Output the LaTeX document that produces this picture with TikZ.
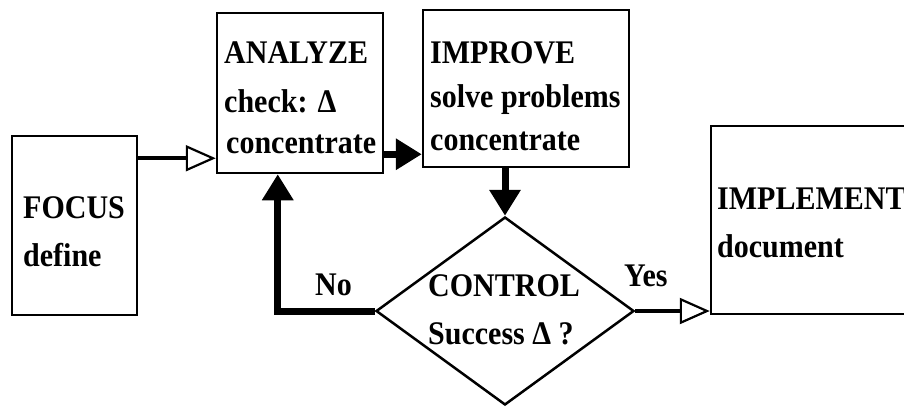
\documentclass[tikz,border=0pt]{standalone}
\usepackage{fontspec}
\setmainfont{Liberation Serif}
\usetikzlibrary{shapes.geometric,arrows.meta}
\newcommand\tallt[1]{\scalebox{1}[1.1]{#1}}
\begin{document}
\begin{tikzpicture}[x=1pt,y=-1pt,
  boxnode/.style={draw,line width=2.5pt,rectangle,inner sep=0pt},
  txt/.style={anchor=base west,inner sep=0pt,font=\bfseries\fontsize{30}{36}\selectfont},
  thinconn/.style={line width=4pt,-{Triangle[open,length=30pt,width=26pt,line width=2.2pt]}},
  thickconn/.style={line width=7pt,-{Triangle[length=26pt,width=30pt]}}]
\useasboundingbox (0,0) rectangle (904,408);
% boxes
\node[boxnode,minimum width=125pt,minimum height=179pt] (fo) at (74.5,225.5) {};
\node[boxnode,minimum width=166pt,minimum height=160pt] (an) at (300,93) {};
\node[boxnode,minimum width=206pt,minimum height=157pt] (im) at (526,88.5) {};
\node[boxnode,minimum width=249pt,minimum height=188pt] (impl) at (835.5,220) {};
\node[draw,line width=2.5pt,diamond,inner sep=0pt,minimum width=258pt,minimum height=188pt] (ctrl) at (505,311) {};
% texts
\node[txt] (t1) at (224,63) {\tallt{ANALYZE}};
\node[txt] (t2) at (224,112) {\tallt{check: Δ}};
\node[txt] (t3) at (226,153) {\tallt{concentrate}};
\node[txt] (t4) at (430,63) {\tallt{IMPROVE}};
\node[txt] (t5) at (430,107) {\tallt{solve problems}};
\node[txt] (t6) at (430,150) {\tallt{concentrate}};
\node[txt] (t7) at (23,218) {\tallt{FOCUS}};
\node[txt] (t8) at (23,266) {\tallt{define}};
\node[txt] (t9) at (717,209) {\tallt{IMPLEMENT}};
\node[txt] (t10) at (717,257) {\tallt{document}};
\node[txt] (t11) at (428,296) {\tallt{CONTROL}};
\node[txt] (t12) at (428,344) {\tallt{Success Δ ?}};
\node[txt] (no) at (315,295) {\tallt{No}};
\node[txt] (yes) at (624,286) {\tallt{Yes}};
% connectors
\coordinate (f1) at ([yshift=16pt]an.south west);
\draw[thinconn] (f1 -| fo.east) -- (f1);
\coordinate (a1) at ([yshift=20pt]an.south east);
\draw[thickconn] (a1) -- (a1 -| im.west);
\draw[thickconn] (ctrl.north |- im.south) -- (ctrl.north);
\draw[thickconn] (ctrl.west) -| ([xshift=62pt]an.south west);
\draw[thinconn] (ctrl.east) -- (ctrl.east -| impl.west);
\end{tikzpicture}
\end{document}
